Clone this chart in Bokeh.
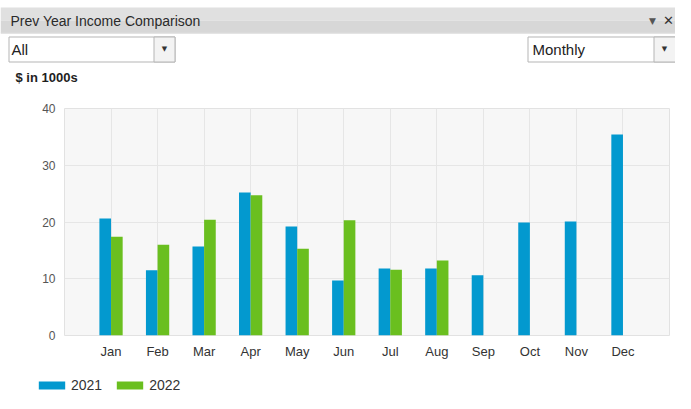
from bokeh.plotting import figure
from bokeh.models import FixedTicker, Range1d, Legend, LegendItem, ColumnDataSource
from bokeh.core.properties import value
from bokeh.embed import file_html
from bokeh.resources import INLINE

# ---- data ----
months = ["Jan", "Feb", "Mar", "Apr", "May", "Jun", "Jul", "Aug", "Sep", "Oct", "Nov", "Dec"]
income_2021 = [20.6, 11.5, 15.7, 25.2, 19.2, 9.7, 11.8, 11.8, 10.6, 19.9, 20.1, 35.4]
income_2022 = [17.4, 16.0, 20.4, 24.7, 15.3, 20.3, 11.6, 13.2]
y_ticks = [0, 10, 20, 30, 40]
series_names = ["2021", "2022"]

BLUE = "#0399cf"
GREEN = "#6abf1f"
FONT = "Liberation Sans"
W = 675

# ================= top chrome (pixel space) =================
TOP_H = 90
top = figure(width=W, height=TOP_H, output_backend="svg", toolbar_location=None,
             x_range=Range1d(0, W), y_range=Range1d(TOP_H, 0),
             x_axis_type=None, y_axis_type=None, min_border=0)
top.grid.visible = False
top.outline_line_color = None
top.background_fill_color = "white"
top.border_fill_color = "white"

def box(l, r, t, b, fill, line=None):
    top.quad(left=[l], right=[r], top=[t], bottom=[b], fill_color=fill,
             line_color=line, line_width=1)

def txt(x, y, s, size, color="#333333", bold=False, align="left", font=FONT):
    top.text(x=[x], y=[y], text=[s], text_font=value(font), text_font_size=size,
             text_color=color, text_font_style="bold" if bold else "normal",
             text_baseline="middle", text_align=align)

# header bar
box(0, W, 7, 20, "#e0e0e0")
box(0, W, 20, 32, "#d7d7d7")
box(0, W, 32, 33, "#c9c9c9")
txt(10, 20, "Prev Year Income Comparison", "14px", color="#2a2a2a")
txt(652, 20, "\u25bc", "9px", color="#555555", align="center", font="DejaVu Sans")
txt(668, 20, "\u2715", "13px", color="#333333", bold=True, align="center", font="DejaVu Sans")

# dropdown "All"
box(8.5, 174.5, 36.5, 61.5, "white", "#b5b5b5")
box(153.5, 174.5, 36.5, 61.5, "#f3f3f3", "#b5b5b5")
txt(11, 49, "All", "15px", color="#222222")
txt(164, 48, "\u25bc", "7px", color="#333333", align="center", font="DejaVu Sans")

# dropdown "Monthly"
box(527.5, 680, 36.5, 61.5, "white", "#b5b5b5")
box(653.5, 680, 36.5, 61.5, "#f3f3f3", "#b5b5b5")
txt(532, 49, "Monthly", "15px", color="#222222")
txt(664, 48, "\u25bc", "7px", color="#333333", align="center", font="DejaVu Sans")

# units label
txt(15, 77, "$ in 1000s", "13px", color="#1e1e1e", bold=True)

# ================= chart =================
CH_H = 273
pos_2021 = [i + 1 - 0.125 for i in range(len(income_2021))]
pos_2022 = [i + 1 + 0.125 for i in range(len(income_2022))]
src21 = ColumnDataSource(dict(x=pos_2021, top=income_2021))
src22 = ColumnDataSource(dict(x=pos_2022, top=income_2022))

p = figure(width=W, height=CH_H, output_backend="svg", toolbar_location=None,
           x_range=Range1d(0, len(months) + 1), y_range=Range1d(0, 40),
           min_border_left=64, min_border_right=6, min_border_top=18, min_border_bottom=28)
p.background_fill_color = "#f7f7f7"
p.border_fill_color = "white"
p.outline_line_color = "#e2e2e2"

r21 = p.vbar(x="x", top="top", width=0.25, source=src21, fill_color=BLUE, line_color=None)
r22 = p.vbar(x="x", top="top", width=0.25, source=src22, fill_color=GREEN, line_color=None)

p.xaxis.ticker = FixedTicker(ticks=list(range(1, len(months) + 1)))
p.xaxis.major_label_overrides = {i + 1: m for i, m in enumerate(months)}
p.yaxis.ticker = FixedTicker(ticks=y_ticks)
for ax in (p.xaxis[0], p.yaxis[0]):
    ax.axis_line_color = None
    ax.major_tick_line_color = None
    ax.minor_tick_line_color = None
    ax.major_tick_out = 0
    ax.major_tick_in = 0
    ax.minor_tick_out = 0
    ax.minor_tick_in = 0
    ax.major_label_text_font = FONT
    ax.major_label_text_color = "#333333"
p.xaxis.major_label_text_font_size = "13px"
p.xaxis.major_label_standoff = 8
p.yaxis.major_label_text_font_size = "12px"
p.yaxis.major_label_text_color = "#555555"
p.yaxis.major_label_standoff = 9

p.xgrid.ticker = FixedTicker(ticks=list(range(0, len(months) + 2)))
p.xgrid.grid_line_color = "#e6e6e6"
p.ygrid.grid_line_color = "#e6e6e6"

# ================= legend strip =================
LG_H = 30
lg = figure(width=W, height=LG_H, output_backend="svg", toolbar_location=None,
            x_range=Range1d(0, W), y_range=Range1d(LG_H, 0),
            x_axis_type=None, y_axis_type=None, min_border=0)
lg.grid.visible = False
lg.outline_line_color = None
lg.border_fill_color = "white"
lg.background_fill_color = "white"
# off-screen key renderers (only their styles are shown, in the legend)
k21 = lg.vbar(x=[-1000], top=[0], width=1, fill_color=BLUE, line_color=None)
k22 = lg.vbar(x=[-1000], top=[0], width=1, fill_color=GREEN, line_color=None)
legend = Legend(items=[LegendItem(label=series_names[0], renderers=[k21]),
                       LegendItem(label=series_names[1], renderers=[k22])],
                orientation="horizontal", location=(35, 0),
                glyph_width=33, glyph_height=10, label_height=12, label_standoff=3,
                spacing=11, padding=0, margin=0, border_line_color=None,
                background_fill_alpha=0, label_text_font=FONT,
                label_text_font_size="14px", label_text_color="#333333")
lg.add_layout(legend)

open("out.html", "w").write(file_html([top, p, lg], INLINE))
